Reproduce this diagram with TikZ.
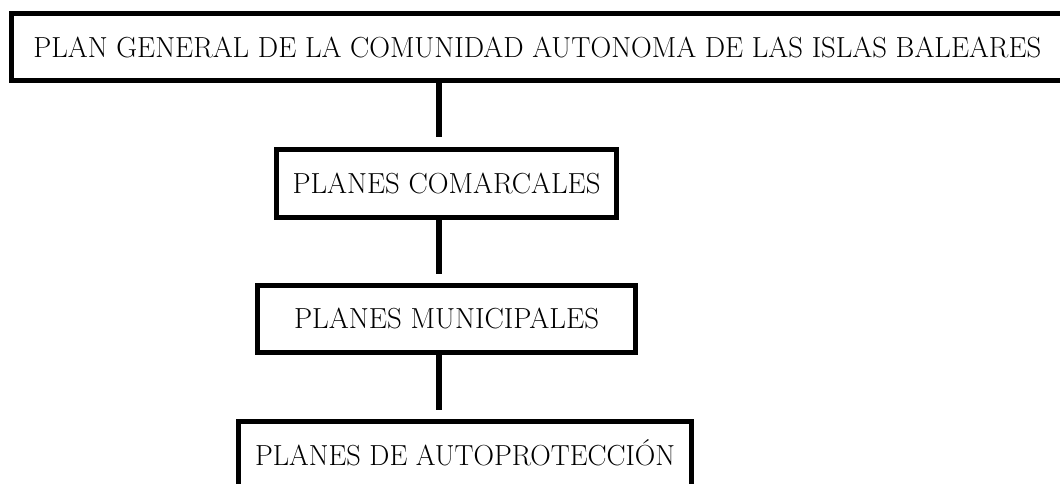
\documentclass[tikz,border=0pt]{standalone}
\usepackage{fontspec}
\usetikzlibrary{calc}
\newlength\fitw
\newcommand\fittext[2]{\settowidth\fitw{#2}\pgfmathsetmacro\fitsx{#1/\fitw}\scalebox{\fitsx}[1]{#2}}
\tikzset{
  planbox/.style={draw=black, line width=5pt, rectangle, inner sep=0pt,
    font=\fontsize{29}{30}\selectfont, text height=19.8pt, text depth=0pt, align=center},
  link/.style={draw=black, line width=5.5pt}
}
\begin{document}
\begin{tikzpicture}[x=1pt,y=-1pt]
\useasboundingbox[fill=white] (0,0) rectangle (1060,484);
\node[planbox, minimum width=1051.5pt, minimum height=67.5pt] (b1) at (537.25,47.25)
  {\fittext{1008}{PLAN GENERAL DE LA COMUNIDAD AUTONOMA DE LAS ISLAS BALEARES}};
\node[planbox, minimum width=340pt, minimum height=68pt] (b2) at (446.5,183.5)
  {\fittext{308}{PLANES COMARCALES}};
\node[planbox, minimum width=378pt, minimum height=67pt] (b3) at (446.5,319)
  {\fittext{305}{PLANES MUNICIPALES}};
\node[planbox, minimum width=453pt, minimum height=68pt] (b4) at (465,455.5)
  {\fittext{420}{PLANES DE AUTOPROTECCIÓN}};
\coordinate (cx) at (439,0);
\draw[link] (b1.south -| cx) -- ($(b2.north -| cx)+(0,-9.5)$);
\draw[link] (b2.south -| cx) -- ($(b3.north -| cx)+(0,-9.5)$);
\draw[link] (b3.south -| cx) -- ($(b4.north -| cx)+(0,-9.5)$);
\end{tikzpicture}
\end{document}
